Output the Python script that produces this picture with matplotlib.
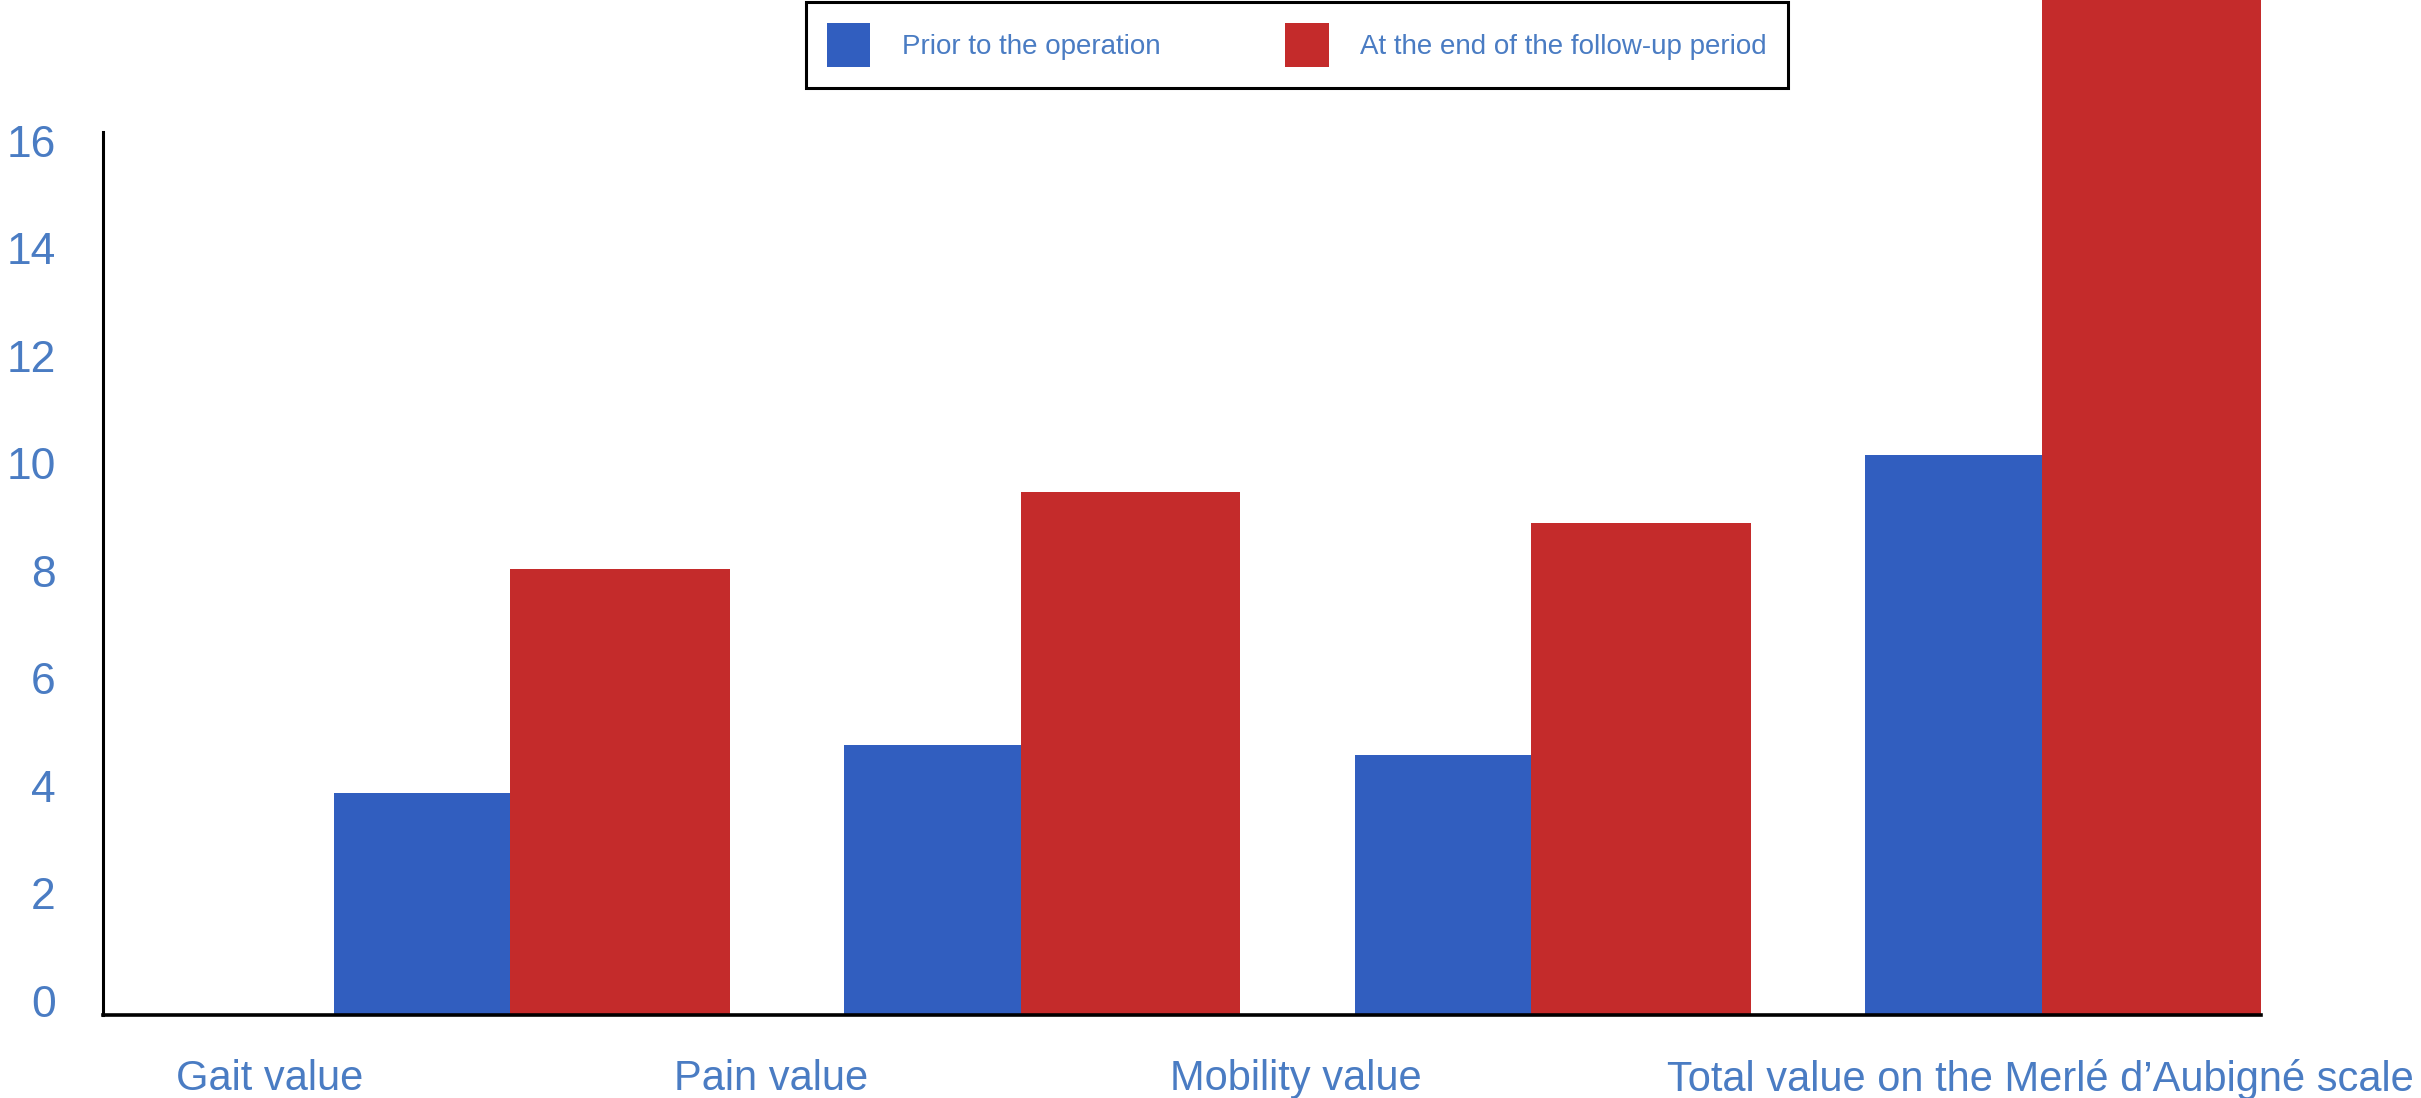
import matplotlib
matplotlib.use("Agg")
import matplotlib.pyplot as plt
import matplotlib.transforms as mtransforms
import numpy as np

# Data
categories = ["Gait value", "Pain value", "Mobility value",
              "Total value on the Merlé d\u2019Aubigné scale"]
before = [4.13, 5.02, 4.84, 10.42]
after = [8.30, 9.73, 9.15, 19.0]
series_names = ["Prior to the operation", "At the end of the follow-up period"]
y_ticks = [0, 2, 4, 6, 8, 10, 12, 14, 16]

# Layout / style
blue = "#315ebf"
red = "#c42b2b"
text_blue = "#4a7cc3"
label_offsets = [-0.125, -0.143, -0.115, 0.344]   # where the category labels sit
w_blue, w_red = 0.346, 0.43

plt.rcParams["font.family"] = ["Liberation Sans", "DejaVu Sans"]

fig = plt.figure(figsize=(24.21, 10.98), dpi=100)
ax = fig.add_axes([0.0425, 0.0756, 0.934 - 0.0425, 1 - 0.0756])

x = np.arange(len(categories))
b1 = ax.bar(x, before, width=w_blue, align="edge", color=blue,
            label=series_names[0], zorder=1)
b2 = ax.bar(x + w_blue, after, width=w_red, align="edge", color=red,
            label=series_names[1], zorder=1)

ax.set_xlim(-0.452, 3.776)
ax.set_ylim(0, 18.88)

# Axes lines
for side in ["top", "right"]:
    ax.spines[side].set_visible(False)
ax.spines["left"].set_bounds(0, 16.43)
ax.spines["left"].set_linewidth(2.2)
ax.spines["bottom"].set_linewidth(2.6)
ax.spines["left"].set_zorder(3)
ax.spines["bottom"].set_zorder(3)

# Y ticks
ax.set_yticks(y_ticks)
ax.set_yticklabels([str(v) for v in y_ticks])
ax.tick_params(axis="y", length=0, pad=34, labelsize=32, labelcolor=text_blue)
shift = mtransforms.ScaledTranslation(0, 0.14, fig.dpi_scale_trans)
for lab in ax.get_yticklabels():
    lab.set_transform(lab.get_transform() + shift)

# X ticks (category labels)
ax.set_xticks(x + np.array(label_offsets))
ax.set_xticklabels(categories)
ax.tick_params(axis="x", length=0, pad=32, labelsize=30, labelcolor=text_blue)

# Legend
leg = fig.legend(handles=[b1, b2], loc="upper left",
                 bbox_to_anchor=(806 / 2421, 1 - 2 / 1098), ncol=2,
                 fontsize=20, frameon=True, fancybox=False,
                 edgecolor="black", framealpha=1,
                 handlelength=1.55, handleheight=2.06, handletextpad=1.15,
                 columnspacing=4.5, borderpad=0.75, borderaxespad=0)
leg.get_frame().set_linewidth(2.2)
for t in leg.get_texts():
    t.set_color(text_blue)

fig.savefig("out.png", dpi=100)
